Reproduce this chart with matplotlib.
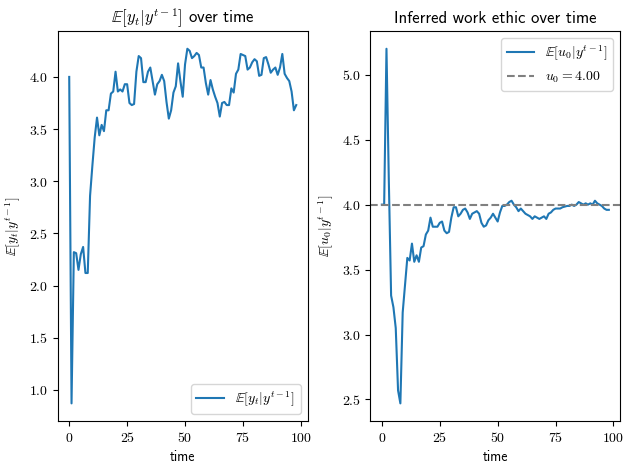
"""Posterior mean of output and inferred work ethic over time."""

import numpy as np
import matplotlib
matplotlib.use("Agg")
import matplotlib.pyplot as plt
from matplotlib.ticker import FuncFormatter

plt.rcParams["mathtext.fontset"] = "cm"
plt.rcParams["font.family"] = ["cmss10", "DejaVu Sans"]
plt.rcParams["axes.formatter.use_mathtext"] = True

U0_TRUE = 4.00

# E[y_t | y^{t-1}]
expected_y = [
    4.00, 0.87, 2.32, 2.31, 2.15, 2.30, 2.37, 2.12, 2.12, 2.86, 3.15, 3.42, 3.61,
    3.44, 3.54, 3.48, 3.68, 3.68, 3.84, 3.86, 4.05, 3.86, 3.88,
    3.86, 3.93, 3.93, 3.75, 3.73, 3.74, 4.05, 4.20, 4.18, 3.95,
    3.95, 4.05, 4.09, 3.96, 3.83, 3.93, 3.96, 4.02, 3.96, 3.76,
    3.60, 3.68, 3.85, 3.91, 4.13, 3.96, 3.81, 4.12, 4.27, 4.25,
    4.18, 4.20, 4.23, 4.21, 4.09, 4.09, 3.94, 3.83, 3.97, 3.88,
    3.81, 3.75, 3.62, 3.75, 3.76, 3.73, 3.73, 3.89, 3.85, 4.03,
    4.07, 4.22, 4.21, 4.20, 4.07, 4.09, 4.14, 4.17, 4.15, 4.01,
    4.02, 4.18, 4.19, 4.12, 4.04, 4.07, 4.09, 4.02, 4.09, 4.22,
    4.03, 3.99, 3.96, 3.86, 3.68, 3.73,
]

# E[u_0 | y^{t-1}]
expected_u0 = [
    4.00, 4.00, 5.20, 4.20, 3.30, 3.21, 3.05, 2.57, 2.47, 3.17, 3.38, 3.59,
    3.57, 3.70, 3.56, 3.61, 3.56, 3.67, 3.68, 3.77, 3.80, 3.90,
    3.83, 3.83, 3.83, 3.86, 3.87, 3.80, 3.78, 3.79, 3.90, 3.98,
    3.98, 3.91, 3.93, 3.96, 3.97, 3.94, 3.89, 3.93, 3.94, 3.95,
    3.93, 3.86, 3.83, 3.84, 3.88, 3.90, 3.93, 3.90, 3.87, 3.94,
    3.99, 3.99, 4.00, 4.02, 4.03, 4.00, 3.98, 3.95, 3.97, 3.95,
    3.93, 3.92, 3.91, 3.89, 3.91, 3.90, 3.89, 3.90, 3.91, 3.89,
    3.93, 3.94, 3.96, 3.97, 3.97, 3.97, 3.98, 3.985, 3.99, 3.99,
    4.00, 3.99, 4.00, 4.02, 4.01, 4.00, 4.01, 4.00, 4.01, 4.00,
    4.03, 4.01, 4.00, 3.99, 3.97, 3.96, 3.96,
]

time = np.arange(len(expected_y))

fmt_int = FuncFormatter(lambda v, p: f"${v:g}$")
fmt_dec = FuncFormatter(lambda v, p: f"${v:.1f}$")

fig, axes = plt.subplots(1, 2, figsize=(6.29, 4.70), dpi=100)
# tight_layout puts the frames a little lower than the reference, so set them by hand
fig.subplots_adjust(left=0.092, right=0.986, top=0.934, bottom=0.104, wspace=0.252)

ax = axes[0]
ax.plot(time, expected_y, label=r"$\mathbb{E}[y_t|y^{t-1}]$")
ax.set_title(r"$\mathbb{E}[y_t|y^{t-1}]$ over time")
ax.set_xlabel("time")
ax.set_ylabel(r"$\mathbb{E}[y_t|y^{t-1}]$")
ax.legend(loc="lower right")

ax = axes[1]
ax.plot(time, expected_u0, label=r"$\mathbb{E}[u_0|y^{t-1}]$")
ax.axhline(U0_TRUE, color="gray", ls="--", label=rf"$u_0 = {U0_TRUE:.2f}$")
ax.set_title("Inferred work ethic over time")
ax.set_xlabel("time")
ax.set_ylabel(r"$\mathbb{E}[u_0|y^{t-1}]$")
ax.legend(loc="upper right")

for ax in axes:
    ax.xaxis.set_major_formatter(fmt_int)
    ax.yaxis.set_major_formatter(fmt_dec)

fig.savefig("out.png", dpi=100)
plt.close()
